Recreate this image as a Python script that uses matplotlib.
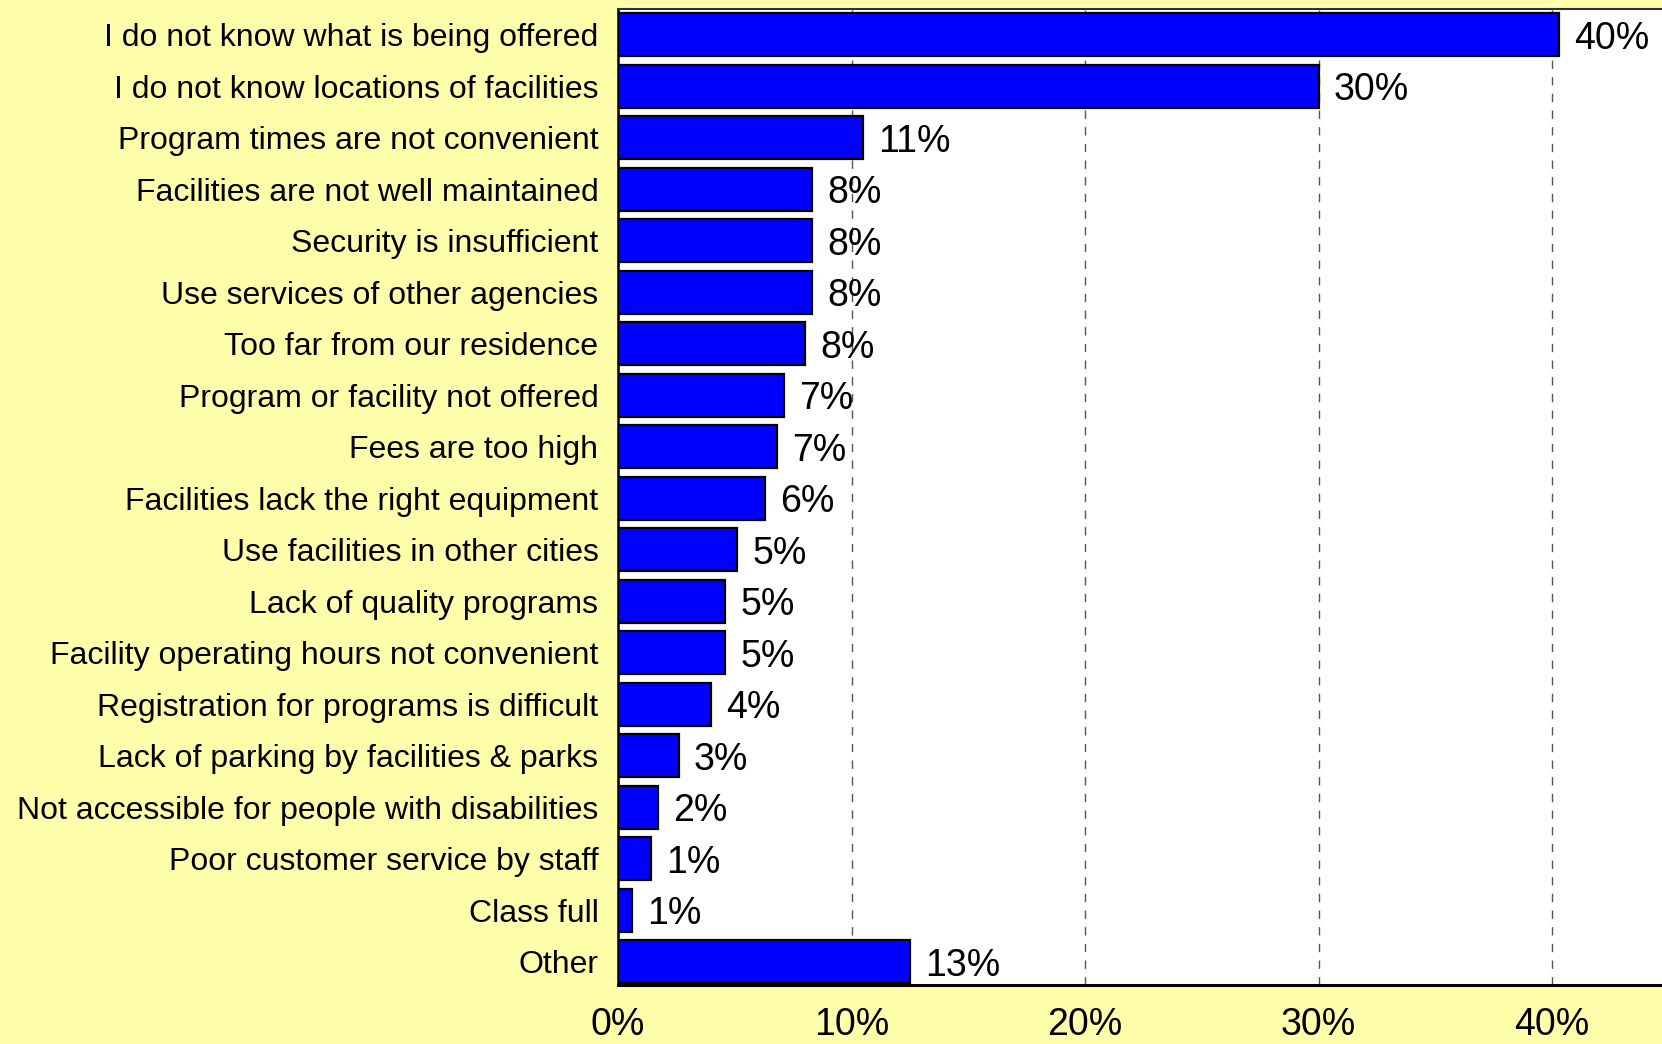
import matplotlib
matplotlib.use("Agg")
import matplotlib.pyplot as plt
from matplotlib.ticker import FuncFormatter

categories = [
    "I do not know what is being offered",
    "I do not know locations of facilities",
    "Program times are not convenient",
    "Facilities are not well maintained",
    "Security is insufficient",
    "Use services of other agencies",
    "Too far from our residence",
    "Program or facility not offered",
    "Fees are too high",
    "Facilities lack the right equipment",
    "Use facilities in other cities",
    "Lack of quality programs",
    "Facility operating hours not convenient",
    "Registration for programs is difficult",
    "Lack of parking by facilities & parks",
    "Not accessible for people with disabilities",
    "Poor customer service by staff",
    "Class full",
    "Other",
]
values = [40.3, 30.0, 10.5, 8.3, 8.3, 8.3, 8.0, 7.1, 6.8, 6.3,
          5.1, 4.6, 4.6, 4.0, 2.6, 1.7, 1.4, 0.6, 12.5]
value_labels = ["40%", "30%", "11%", "8%", "8%", "8%", "8%", "7%", "7%", "6%",
                "5%", "5%", "5%", "4%", "3%", "2%", "1%", "1%", "13%"]
x_ticks = [0, 10, 20, 30, 40]

plt.rcParams["font.family"] = ["Liberation Sans", "DejaVu Sans"]

fig = plt.figure(figsize=(16.62, 10.44), dpi=100, facecolor="#FFFFAB")
ax = fig.add_axes([0.3718, 0.0565, 0.6282, 0.935])
ax.set_facecolor("white")

ypos = list(range(len(categories)))
ax.barh(ypos, values, height=0.83, color="#0000FF", edgecolor="black",
        linewidth=1.6, zorder=3)

for y, v, lab in zip(ypos, values, value_labels):
    ax.text(v + 0.65, y, lab, ha="left", va="center_baseline",
            fontsize=27, color="black", zorder=4)

ax.set_ylim(len(categories) - 0.55, -0.5)
ax.set_xlim(0, 44.7)
ax.set_yticks(ypos)
ax.set_yticklabels(categories, fontsize=23, va="center_baseline")
ax.set_xticks(x_ticks)
ax.xaxis.set_major_formatter(FuncFormatter(lambda v, p: f"{v:.0f}%"))
ax.tick_params(axis="x", labelsize=27, length=0, pad=16)
ax.tick_params(axis="y", length=0, pad=14)

ax.grid(True, axis="x", color="#555555", linestyle=(0, (6, 6)),
        linewidth=1.0, zorder=1)
ax.grid(False, axis="y")

ax.spines["right"].set_visible(False)
ax.spines["top"].set_color("#333333")
ax.spines["top"].set_linewidth(1.5)
ax.spines["left"].set_linewidth(1.8)
ax.spines["bottom"].set_linewidth(2.2)

plt.savefig("out.png", dpi=100, facecolor=fig.get_facecolor())
